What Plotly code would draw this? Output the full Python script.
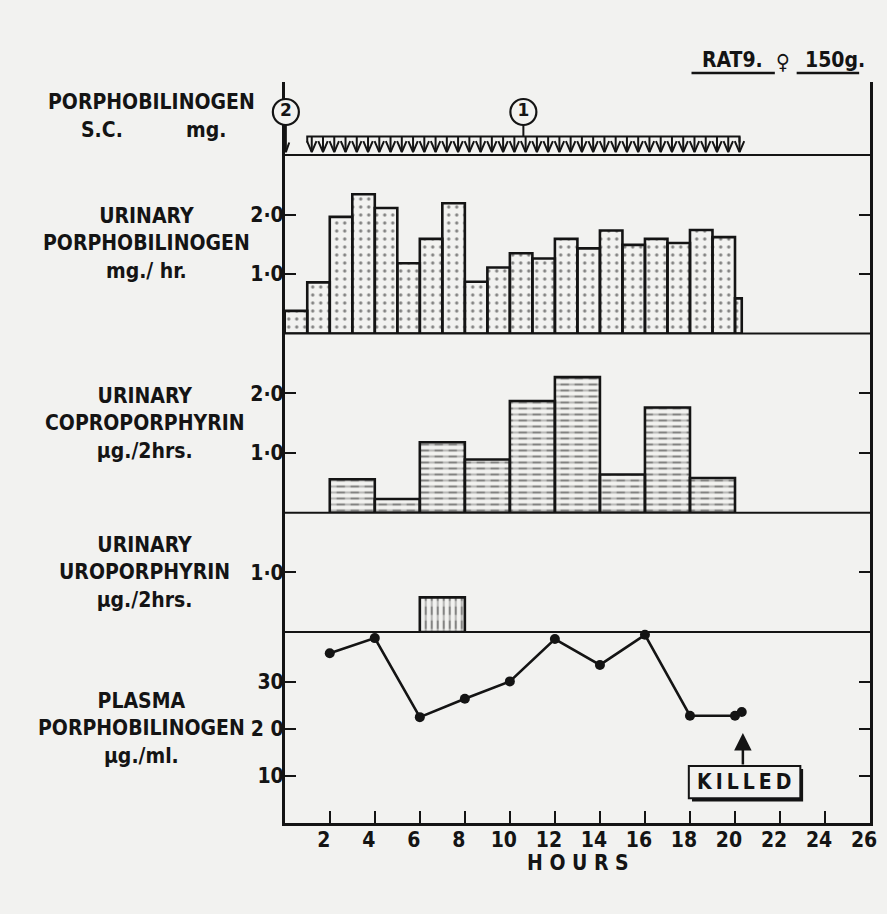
import plotly.graph_objects as go

W, H = 887, 914
BG = "#f2f2f0"
INK = "#141414"
FONT = "DejaVu Sans Condensed, DejaVu Sans, sans-serif"

# ---------------- data ----------------
hour_ticks = [2, 4, 6, 8, 10, 12, 14, 16, 18, 20, 22, 24, 26]
top_ticks = [2, 4, 6, 8, 10, 12, 14, 16, 18, 20, 22, 24]

# urinary porphobilinogen, mg/hr (hourly collections)
pbg_start = [0, 1, 2, 3, 4, 5, 6, 7, 8, 9, 10, 11, 12, 13, 14, 15, 16, 17, 18, 19, 20]
pbg_end = [1, 2, 3, 4, 5, 6, 7, 8, 9, 10, 11, 12, 13, 14, 15, 16, 17, 18, 19, 20, 20.3]
pbg_urine = [0.38, 0.86, 1.96, 2.34, 2.11, 1.18, 1.59, 2.19, 0.87, 1.11, 1.35,
             1.26, 1.59, 1.43, 1.73, 1.49, 1.59, 1.52, 1.74, 1.62, 0.59]

# urinary coproporphyrin, ug / 2 hrs
copro_start = [2, 4, 6, 8, 10, 12, 14, 16, 18]
copro_end = [4, 6, 8, 10, 12, 14, 16, 18, 20]
copro = [0.56, 0.23, 1.18, 0.89, 1.87, 2.27, 0.64, 1.76, 0.58]

# urinary uroporphyrin, ug / 2 hrs
uro_start = [6]
uro_end = [8]
uro = [0.58]

# plasma porphobilinogen, ug/ml
plasma_hours = [2, 4, 6, 8, 10, 12, 14, 16, 18, 20, 20.3]
plasma_pbg = [36.1, 39.3, 22.5, 26.4, 30.1, 39.1, 33.6, 40.0, 22.8, 22.8, 23.6]

# porphobilinogen s.c. doses
priming_time = [0.05]
priming_dose = ["2"]
inj_times = [1.2, 1.7, 2.2, 2.7, 3.2, 3.7, 4.2, 4.7, 5.2, 5.7, 6.2, 6.7, 7.2, 7.7,
             8.2, 8.7, 9.2, 9.7, 10.2, 10.7, 11.2, 11.7, 12.2, 12.7, 13.2, 13.7,
             14.2, 14.7, 15.2, 15.7, 16.2, 16.7, 17.2, 17.7, 18.2, 18.7, 19.2,
             19.7, 20.2]
inj_dose = "1"
killed_time = 20.35

# ---------------- layout helpers ----------------
def px(x):
    return x / W

def py(y):
    return 1 - y / H

X0, X1 = 287, 877
Y_TOP, Y_SEP1, Y_SEP2, Y_SEP3, Y_SEP4, Y_BOT = 81.5, 155, 333.5, 512.7, 632, 823
dom_top = [py(Y_SEP1), py(Y_TOP)]
dom_pbg = [py(Y_SEP2), py(Y_SEP1)]
dom_copro = [py(Y_SEP3), py(Y_SEP2)]
dom_uro = [py(Y_SEP4), py(Y_SEP3)]
dom_plasma = [py(Y_BOT), py(Y_SEP4)]

fig = go.Figure()

def bar_set(starts, ends, vals, yaxis, shape, size, solidity, cut_shape=None, cut_size=None, cut_sol=None):
    widths = [e - s for s, e in zip(starts, ends)]
    fig.add_trace(go.Bar(
        x=starts, y=vals, width=widths, offset=0, yaxis=yaxis,
        marker=dict(color=BG, line=dict(width=0),
                    pattern=dict(shape=shape, fgcolor=INK, bgcolor=BG, size=size, solidity=solidity)),
        showlegend=False, hoverinfo="skip"))
    if cut_shape:
        fig.add_trace(go.Bar(
            x=starts, y=vals, width=widths, offset=0, yaxis=yaxis,
            marker=dict(color="rgba(0,0,0,0)", line=dict(width=0),
                        pattern=dict(shape=cut_shape, fgcolor=BG, bgcolor="rgba(0,0,0,0)",
                                     size=cut_size, solidity=cut_sol)),
            showlegend=False, hoverinfo="skip"))
    fig.add_trace(go.Bar(
        x=starts, y=vals, width=widths, offset=0, yaxis=yaxis,
        marker=dict(color="rgba(0,0,0,0)", line=dict(color=INK, width=2.6)),
        showlegend=False, hoverinfo="skip"))

bar_set(pbg_start, pbg_end, pbg_urine, "y4", ".", 8, 0.13)
bar_set(copro_start, copro_end, copro, "y3", "-", 6, 0.36, "|", 14, 0.4)
bar_set(uro_start, uro_end, uro, "y2", "|", 6, 0.36, "-", 14, 0.4)

fig.add_trace(go.Scatter(
    x=plasma_hours, y=plasma_pbg, yaxis="y", mode="lines+markers",
    line=dict(color=INK, width=2.6), marker=dict(color=INK, size=10),
    cliponaxis=False, showlegend=False, hoverinfo="skip"))

# injection arrows (top panel, y range 0..1)
ax_x, ax_y = [], []
for t in inj_times:
    ax_x += [t, t, None, t - 0.21, t, t + 0.21, None]
    ax_y += [0.252, 0.04, None, 0.19, 0.04, 0.19, None]
# bracket
b0, b1 = inj_times[0] - 0.2, inj_times[-1]
ax_x += [b0, b0, b1, b1, None]
ax_y += [0.17, 0.252, 0.252, 0.17, None]
# stem from circle 1 to bracket
mid = (b0 + b1) / 2
ax_x += [mid, mid, None]
ax_y += [0.42, 0.252, None]
# priming dose arrow
for t in priming_time:
    ax_x += [t, t, None, t - 0.15, t, t + 0.15, None]
    ax_y += [0.42, 0.04, None, 0.17, 0.04, 0.17, None]
fig.add_trace(go.Scatter(
    x=ax_x, y=ax_y, yaxis="y5", mode="lines", line=dict(color=INK, width=2),
    cliponaxis=False, showlegend=False, hoverinfo="skip"))
fig.add_trace(go.Scatter(
    x=priming_time + [mid], y=[0.585, 0.585], yaxis="y5", mode="markers+text",
    text=priming_dose + [inj_dose], textposition="middle center",
    textfont=dict(family="DejaVu Sans", size=17, color=INK, weight="bold"),
    marker=dict(symbol="circle", size=26, color=BG, line=dict(color=INK, width=2.2)),
    cliponaxis=False, showlegend=False, hoverinfo="skip"))

TFONT = dict(family=FONT, size=21, color=INK, weight="bold")

axis_common = dict(showline=True, linecolor=INK, linewidth=2.6, ticks="inside",
                   tickcolor=INK, tickwidth=2.2, showgrid=False, zeroline=False,
                   tickfont=TFONT)

yaxis_common = dict(axis_common, mirror="ticks", anchor="x", ticklen=11,
                    ticklabelstandoff=-6, fixedrange=True)

fig.update_layout(
    width=W, height=H, margin=dict(l=0, r=0, t=0, b=0),
    paper_bgcolor=BG, plot_bgcolor=BG, barmode="overlay", showlegend=False,
    font=TFONT,
    xaxis=dict(axis_common, domain=[px(X0), px(X1)], range=[0, 26], anchor="y",
               tickvals=hour_ticks, ticklen=12, ticklabelshift=-6,
               ticklabelstandoff=-4),
    xaxis2=dict(axis_common, domain=[px(X0), px(X1)], matches="x", overlaying="x",
                anchor="y5", side="top", tickvals=top_ticks, ticklen=13,
                showticklabels=False),
    yaxis=dict(yaxis_common, domain=dom_plasma, range=[0, 40.6],
               tickvals=[10, 20, 30], ticktext=["10", "2 0", "30"]),
    yaxis2=dict(yaxis_common, domain=dom_uro, range=[0, 2.0],
                tickvals=[1], ticktext=["1·0"]),
    yaxis3=dict(yaxis_common, domain=dom_copro, range=[0, 3.0],
                tickvals=[1, 2], ticktext=["1·0", "2·0"]),
    yaxis4=dict(yaxis_common, domain=dom_pbg, range=[0, 3.0],
                tickvals=[1, 2], ticktext=["1·0", "2·0"]),
    yaxis5=dict(axis_common, domain=dom_top, range=[0, 1], anchor="x", ticks="",
                showticklabels=False, mirror=True, layer="below traces"),
)

shapes = []
for yy in [Y_SEP1, Y_SEP2, Y_SEP3, Y_SEP4]:
    shapes.append(dict(type="line", xref="paper", yref="paper", x0=px(X0), x1=px(X1),
                       y0=py(yy), y1=py(yy), line=dict(color=INK, width=2)))
# underlines for title
shapes.append(dict(type="line", xref="paper", yref="paper", x0=px(697), x1=px(781),
                   y0=py(73), y1=py(73), line=dict(color=INK, width=2.5)))
shapes.append(dict(type="line", xref="paper", yref="paper", x0=px(803), x1=px(866),
                   y0=py(73), y1=py(73), line=dict(color=INK, width=2.5)))
# KILLED box with shadow
shapes.append(dict(type="rect", xref="paper", yref="paper", x0=px(697.5), x1=px(809.5),
                   y0=py(801.5), y1=py(769), fillcolor=INK, line=dict(width=0)))
shapes.append(dict(type="rect", xref="paper", yref="paper", x0=px(694.3), x1=px(806.7),
                   y0=py(798.3), y1=py(766), fillcolor=BG, line=dict(color=INK, width=2)))
fig.update_layout(shapes=shapes)

def label(text, x, y, size=21, **kw):
    fig.add_annotation(text=text, x=px(x), y=py(y), xref="paper", yref="paper",
                       showarrow=False, xanchor="center", yanchor="middle",
                       align="center",
                       font=dict(family=FONT, size=size, color=INK, weight="bold"), **kw)

label("PORPHOBILINOGEN", 152.7, 102)
label("S.C.", 103, 130)
label("mg.", 208, 130)
label("URINARY<br>PORPHOBILINOGEN<br>mg./ hr.", 148, 243.3)
label("URINARY<br>COPROPORPHYRIN<br>µg./2hrs.", 146, 423)
label("URINARY<br>UROPORPHYRIN<br>µg./2hrs.", 146, 572)
label("PLASMA<br>PORPHOBILINOGEN<br>µg./ml.", 143, 728)
label("H O U R S", 582.5, 863)
label("RAT9.", 738.5, 60)
label("♀", 789, 62)
label("150g.", 842, 60)
label('<span style="letter-spacing:4px">KILLED</span>', 752, 782)

fig.add_annotation(x=killed_time, y=19.15, xref="x", yref="y", text="", showarrow=True,
                   ax=0, ay=33, arrowhead=2, arrowsize=1.4, arrowwidth=2.5,
                   arrowcolor=INK, standoff=0)

fig.write_html("out.html", config={"displayModeBar": False},
               post_script="document.body.style.margin='0';"
                           "document.body.style.background='" + BG + "';")
